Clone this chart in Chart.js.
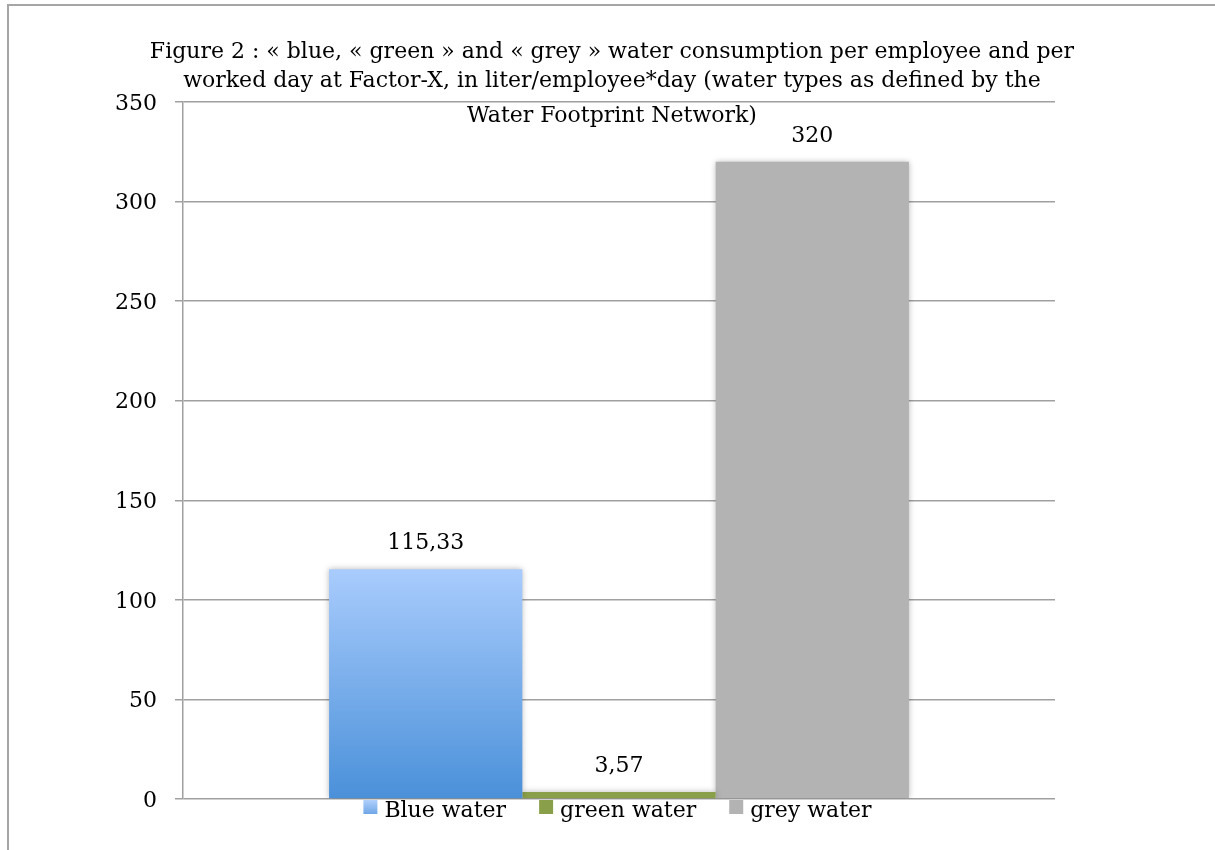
<!DOCTYPE html>
<html><head><meta charset="utf-8">
<script src="https://cdn.jsdelivr.net/npm/chart.js@4.4.0/dist/chart.umd.min.js"></script>
<style>
html,body{margin:0;padding:0;background:#fff;width:1215px;height:850px;overflow:hidden;}
#frame{position:absolute;left:7px;top:4px;width:1206px;height:844px;border-top:2px solid #a6a6a6;border-left:2px solid #a6a6a6;}
#wrap{position:absolute;left:0;top:0;width:1206px;height:844px;}
</style></head><body>
<div id="frame"><div id="wrap"><canvas id="c"></canvas></div></div>
<script>
const titleLines = [
  'Figure 2 : « blue, « green » and « grey » water consumption per employee and per',
  'worked day at Factor-X, in liter/employee*day (water types as defined by the',
  'Water Footprint Network)'
];
const categories = [''];
const seriesNames = ['Blue water', 'green water', 'grey water'];
const blueValues = [115.33];
const greenValues = [3.57];
const greyValues = [320];
const yTicks = [0, 50, 100, 150, 200, 250, 300, 350];

const FONT = "'DejaVu Serif', serif";
const FSIZE = 22;

function blueGradient(c) {
  const chart = c.chart;
  if (!chart.chartArea) return '#7fb0ec';
  const y = chart.scales.y;
  const g = chart.ctx.createLinearGradient(0, y.getPixelForValue(blueValues[0]), 0, y.getPixelForValue(0));
  g.addColorStop(0, '#a9ccfd');
  g.addColorStop(1, '#4a90d9');
  return g;
}

const shadowPlugin = {
  id: 'shadow',
  beforeDatasetsDraw(chart) {
    const ctx = chart.ctx;
    ctx.save();
    ctx.shadowColor = 'rgba(0,0,0,0.28)';
    ctx.shadowBlur = 6;
    ctx.shadowOffsetX = 0;
    ctx.shadowOffsetY = 0;
  },
  afterDatasetsDraw(chart) {
    chart.ctx.restore();
  }
};

const valueLabels = {
  id: 'valueLabels',
  afterDatasetsDraw(chart) {
    const ctx = chart.ctx;
    ctx.save();
    ctx.font = FSIZE + 'px ' + FONT;
    ctx.fillStyle = '#000';
    ctx.textAlign = 'center';
    ctx.textBaseline = 'alphabetic';
    chart.data.datasets.forEach((ds, i) => {
      const meta = chart.getDatasetMeta(i);
      meta.data.forEach((el, j) => {
        const txt = String(ds.data[j]).replace('.', ',');
        ctx.fillText(txt, el.x, el.y - 20);
      });
    });
    ctx.restore();
  }
};

const titlePlugin = {
  id: 'titleText',
  afterDraw(chart) {
    const ctx = chart.ctx;
    const cx = chart.width / 2;
    const baselines = [52, 80.7, 115.7];
    ctx.save();
    ctx.font = FSIZE + 'px ' + FONT;
    ctx.fillStyle = '#000';
    ctx.textAlign = 'center';
    ctx.textBaseline = 'alphabetic';
    titleLines.forEach((t, i) => ctx.fillText(t, cx, baselines[i]));
    ctx.restore();
  }
};

const customLegend = {
  id: 'customLegend',
  afterDraw(chart) {
    const ctx = chart.ctx;
    const area = chart.chartArea;
    ctx.save();
    ctx.font = FSIZE + 'px ' + FONT;
    ctx.textBaseline = 'alphabetic';
    ctx.textAlign = 'left';
    const box = 14, gapIn = 7, gapOut = 33;
    const widths = chart.data.datasets.map(ds => ctx.measureText(ds.label).width);
    const total = widths.reduce((a, w) => a + box + gapIn + w, 0) + gapOut * (widths.length - 1);
    let x = (area.left + area.right) / 2 - 1.5 - total / 2;
    const yTop = area.bottom + 1;
    chart.data.datasets.forEach((ds, i) => {
      let fill = ds.backgroundColor;
      if (typeof fill === 'function') {
        const g = ctx.createLinearGradient(0, yTop, 0, yTop + box);
        g.addColorStop(0, '#b0d0fb');
        g.addColorStop(1, '#6fa6e6');
        fill = g;
      }
      ctx.fillStyle = fill;
      ctx.fillRect(x, yTop, box, box);
      ctx.fillStyle = '#000';
      ctx.fillText(ds.label, x + box + gapIn, yTop + 16.7);
      x += box + gapIn + widths[i] + gapOut;
    });
    ctx.restore();
  }
};

new Chart(document.getElementById('c'), {
  type: 'bar',
  data: {
    labels: categories,
    datasets: [
      { label: seriesNames[0], data: blueValues, backgroundColor: blueGradient },
      { label: seriesNames[1], data: greenValues, backgroundColor: '#8a9f4a' },
      { label: seriesNames[2], data: greyValues, backgroundColor: '#b3b3b3' }
    ]
  },
  options: {
    responsive: true,
    maintainAspectRatio: false,
    animation: false,
    devicePixelRatio: 1,
    categoryPercentage: 0.665,
    barPercentage: 1.0,
    layout: { padding: { left: 0, right: 160, top: 96, bottom: 51 } },
    plugins: {
      legend: { display: false },
      tooltip: { enabled: false },
      title: { display: false }
    },
    scales: {
      x: { display: false },
      y: {
        min: 0,
        max: 350,
        afterBuildTicks(scale) { scale.ticks = yTicks.map(v => ({ value: v })); },
        afterFit(scale) { scale.width = 174; },
        ticks: {
          color: '#000',
          padding: 18,
          labelOffset: 2,
          font: { family: FONT, size: FSIZE },
          callback: v => String(v)
        },
        grid: { color: '#a0a0a0', lineWidth: 1.5, tickLength: 8 },
        border: { display: true, color: '#a0a0a0', width: 1.5 }
      }
    }
  },
  plugins: [shadowPlugin, valueLabels, titlePlugin, customLegend]
});
</script>
</body></html>
